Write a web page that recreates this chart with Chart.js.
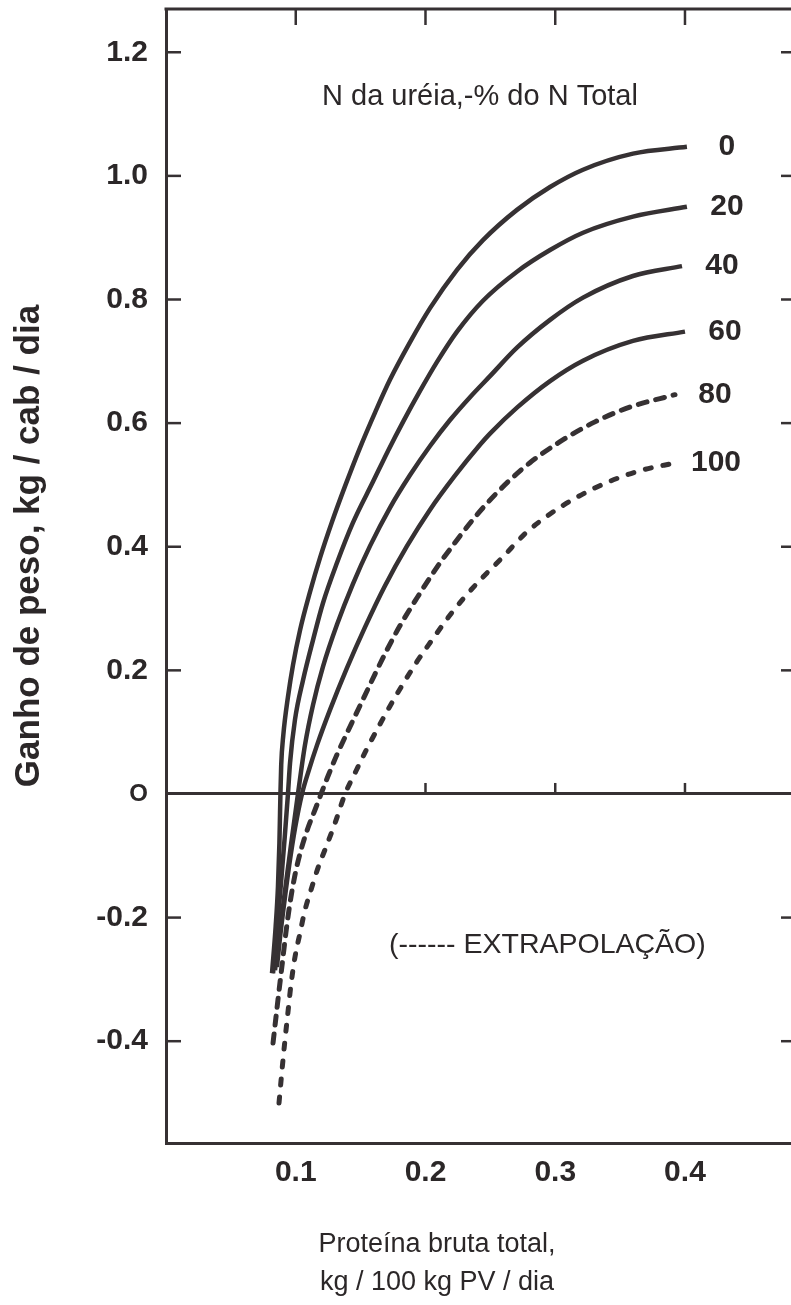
<!DOCTYPE html>
<html lang="pt">
<head>
<meta charset="utf-8">
<title>Ganho de peso x proteína bruta total</title>
<script src="https://cdn.jsdelivr.net/npm/chart.js@4.4.1/dist/chart.umd.min.js"></script>
<style>
  html, body { margin: 0; padding: 0; background: #fff; overflow: hidden; }
  canvas { display: block; }
</style>
</head>
<body>
<canvas id="chart" width="800" height="1305"></canvas>
<script>
// N da uréia, % do N total (uma curva por nível)
const ureaLevels = ['0', '20', '40', '60', '80', '100'];

// proteína bruta total (kg/100 kg PV/dia) e ganho (kg/cab/dia)
const protein0 = [0.0817, 0.0845, 0.0863, 0.0874, 0.0879, 0.0882, 0.0888, 0.0904, 0.0940, 0.0979, 0.1033, 0.1110, 0.1187, 0.1279, 0.1380, 0.1495, 0.1611, 0.1726, 0.1881, 0.2035, 0.2243, 0.2443, 0.2705, 0.2960, 0.3214, 0.3599, 0.4015];
const gain0 = [-0.290, -0.215, -0.150, -0.080, -0.030, 0.000, 0.047, 0.095, 0.157, 0.209, 0.265, 0.327, 0.382, 0.440, 0.498, 0.560, 0.617, 0.670, 0.731, 0.786, 0.848, 0.896, 0.945, 0.982, 1.010, 1.036, 1.047];

const protein20 = [0.0825, 0.0858, 0.0888, 0.0915, 0.0940, 0.0956, 0.0994, 0.1056, 0.1133, 0.1210, 0.1318, 0.1441, 0.1595, 0.1711, 0.1827, 0.1958, 0.2089, 0.2243, 0.2443, 0.2705, 0.2960, 0.3214, 0.3599, 0.4015];
const gain20 = [-0.290, -0.215, -0.140, -0.070, 0.000, 0.050, 0.120, 0.184, 0.249, 0.309, 0.374, 0.439, 0.505, 0.555, 0.602, 0.652, 0.699, 0.748, 0.798, 0.845, 0.880, 0.908, 0.934, 0.950];

const protein40 = [0.0840, 0.0875, 0.0915, 0.0965, 0.1017, 0.1071, 0.1133, 0.1210, 0.1318, 0.1441, 0.1572, 0.1726, 0.1881, 0.2035, 0.2189, 0.2343, 0.2497, 0.2705, 0.2960, 0.3214, 0.3599, 0.3977];
const gain40 = [-0.285, -0.228, -0.160, -0.080, 0.000, 0.079, 0.144, 0.206, 0.274, 0.340, 0.401, 0.463, 0.516, 0.563, 0.605, 0.642, 0.676, 0.722, 0.767, 0.803, 0.838, 0.854];

const protein60 = [0.0855, 0.0880, 0.0912, 0.0950, 0.0995, 0.1048, 0.1102, 0.1164, 0.1264, 0.1395, 0.1534, 0.1688, 0.1857, 0.2035, 0.2227, 0.2420, 0.2497, 0.2705, 0.2960, 0.3214, 0.3599, 0.4000];
const gain60 = [-0.280, -0.230, -0.175, -0.115, -0.055, 0.000, 0.039, 0.079, 0.136, 0.204, 0.270, 0.337, 0.401, 0.460, 0.515, 0.565, 0.583, 0.625, 0.668, 0.701, 0.733, 0.748];

const protein80 = [0.0825, 0.0863, 0.0894, 0.0925, 0.0956, 0.0994, 0.1040, 0.1094, 0.1148, 0.1195, 0.1249, 0.1310, 0.1380, 0.1457, 0.1534, 0.1611, 0.1703, 0.1803, 0.1934, 0.2089, 0.2243, 0.2382, 0.2513, 0.2651, 0.2805, 0.3037, 0.3306, 0.3576, 0.3923];
const gain80 = [-0.403, -0.333, -0.278, -0.223, -0.176, -0.131, -0.091, -0.055, -0.026, 0.000, 0.029, 0.060, 0.092, 0.126, 0.160, 0.194, 0.233, 0.272, 0.317, 0.367, 0.411, 0.448, 0.479, 0.508, 0.536, 0.570, 0.602, 0.626, 0.646];

const protein100 = [0.0871, 0.0894, 0.0917, 0.0940, 0.0963, 0.0994, 0.1033, 0.1071, 0.1118, 0.1171, 0.1233, 0.1303, 0.1380, 0.1457, 0.1541, 0.1634, 0.1726, 0.1827, 0.1934, 0.2050, 0.2173, 0.2304, 0.2443, 0.2590, 0.2767, 0.2960, 0.3175, 0.3422, 0.3653, 0.3931];
const gain100 = [-0.500, -0.447, -0.398, -0.353, -0.309, -0.264, -0.225, -0.188, -0.155, -0.120, -0.086, -0.047, 0.000, 0.034, 0.070, 0.107, 0.142, 0.178, 0.214, 0.249, 0.285, 0.319, 0.351, 0.382, 0.421, 0.453, 0.481, 0.506, 0.523, 0.536];

const xTickValues = [0.1, 0.2, 0.3, 0.4];
const xTickLabels = ['0.1', '0.2', '0.3', '0.4'];
const yTickValues = [-0.4, -0.2, 0, 0.2, 0.4, 0.6, 0.8, 1.0, 1.2];
const yTickLabels = ['-0.4', '-0.2', 'O', '0.2', '0.4', '0.6', '0.8', '1.0', '1.2'];

const xTitle = ['Proteína bruta total,', 'kg / 100 kg PV / dia'];
const yTitle = 'Ganho de peso, kg / cab / dia';

const ink = '#363133';
const textInk = '#2b2728';
const family = "'Liberation Sans', Arial, sans-serif";

const toPoints = (xs, ys) => xs.map((x, i) => ({ x: x, y: ys[i] }));

const series = [
    [protein0, gain0, []],
    [protein20, gain20, []],
    [protein40, gain40, []],
    [protein60, gain60, []],
    [protein80, gain80, [9, 9]],
    [protein100, gain100, [6, 12]]
];

const datasets = series.map((s, i) => ({
    label: ureaLevels[i],
    data: toPoints(s[0], s[1]),
    borderColor: ink,
    borderWidth: s[2].length ? 5 : 4.5,
    borderDash: s[2],
    borderCapStyle: s[2].length ? 'round' : 'butt',
    borderJoinStyle: 'round',
    pointRadius: 0,
    cubicInterpolationMode: 'monotone',
    fill: false
}));

// moldura superior, marcas internas, textos da figura
const decorations = {
    id: 'decorations',
    afterDatasetsDraw(chart) {
        const { ctx, chartArea: area, scales: { x, y } } = chart;
        const line = (x1, y1, x2, y2) => {
            ctx.beginPath();
            ctx.moveTo(x1, y1);
            ctx.lineTo(x2, y2);
            ctx.stroke();
        };
        ctx.save();
        ctx.strokeStyle = ink;
        ctx.lineWidth = 3;
        line(area.left - 1.5, area.top, area.right, area.top);

        ctx.lineWidth = 2.5;
        const zeroY = y.getPixelForValue(0);
        yTickValues.forEach(v => {
            if (v === 0) return;
            const py = y.getPixelForValue(v);
            line(area.left, py, area.left + 15, py);
            line(area.right - 14, py, area.right, py);
        });
        xTickValues.forEach(v => {
            const px = x.getPixelForValue(v);
            line(px, area.top, px, area.top + 16);
            if (v > 0.15) line(px, zeroY, px, zeroY - 11);
        });

        ctx.fillStyle = textInk;
        ctx.textBaseline = 'middle';
        ctx.textAlign = 'center';

        // rótulos das curvas
        ctx.font = 'bold 30px ' + family;
        chart.data.datasets.forEach((ds, i) => {
            const pts = chart.getDatasetMeta(i).data;
            const last = pts[pts.length - 1];
            ctx.fillText(ds.label, last.x + 40, last.y);
        });

        ctx.font = '29px ' + family;
        ctx.fillText('N da uréia,-% do N Total', x.getPixelForValue(0.242), y.getPixelForValue(1.127));
        ctx.font = '28.5px ' + family;
        ctx.fillText('(------ EXTRAPOLAÇÃO)', x.getPixelForValue(0.294), y.getPixelForValue(-0.245));

        // título do eixo x
        ctx.font = '27px ' + family;
        ctx.fillText(xTitle[0], 437, 1245);
        ctx.fillText(xTitle[1], 437, 1283);

        // título do eixo y
        ctx.font = 'bold 35px ' + family;
        ctx.translate(29, 546);
        ctx.rotate(-Math.PI / 2);
        ctx.fillText(yTitle, 0, 0);
        ctx.restore();
    }
};

new Chart(document.getElementById('chart'), {
    type: 'line',
    data: { datasets: datasets },
    options: {
        responsive: false,
        animation: false,
        layout: { padding: { top: 9, right: 5, left: 0, bottom: 0 } },
        plugins: {
            legend: { display: false },
            tooltip: { enabled: false }
        },
        scales: {
            x: {
                type: 'linear',
                min: 0,
                max: 0.4848,
                afterBuildTicks: scale => { scale.ticks = xTickValues.map(v => ({ value: v })); },
                afterFit: scale => {
                    scale.height = 162;
                    scale.paddingLeft = 0;
                    scale.paddingRight = 0;
                },
                grid: { display: false, drawTicks: false },
                border: { display: true, color: ink, width: 3 },
                ticks: {
                    autoSkip: false,
                    maxRotation: 0,
                    padding: 12,
                    color: textInk,
                    font: { family: family, size: 30, weight: 'bold' },
                    callback: (v, i) => xTickLabels[i]
                },
                title: { display: false }
            },
            y: {
                type: 'linear',
                min: -0.5647,
                max: 1.270,
                afterBuildTicks: scale => { scale.ticks = yTickValues.map(v => ({ value: v })); },
                afterFit: scale => {
                    scale.width = 166;
                    scale.paddingTop = 0;
                    scale.paddingBottom = 0;
                },
                grid: {
                    drawTicks: false,
                    lineWidth: 3,
                    color: c => (c.tick && c.tick.value === 0) ? ink : 'rgba(0,0,0,0)'
                },
                border: { display: true, color: ink, width: 3 },
                ticks: {
                    autoSkip: false,
                    padding: 18,
                    color: textInk,
                    font: c => ({
                        family: family,
                        size: (c.tick && c.tick.value === 0) ? 24 : 30,
                        weight: 'bold'
                    }),
                    callback: (v, i) => yTickLabels[i]
                },
                title: { display: false }
            }
        }
    },
    plugins: [decorations]
});
</script>
</body>
</html>
